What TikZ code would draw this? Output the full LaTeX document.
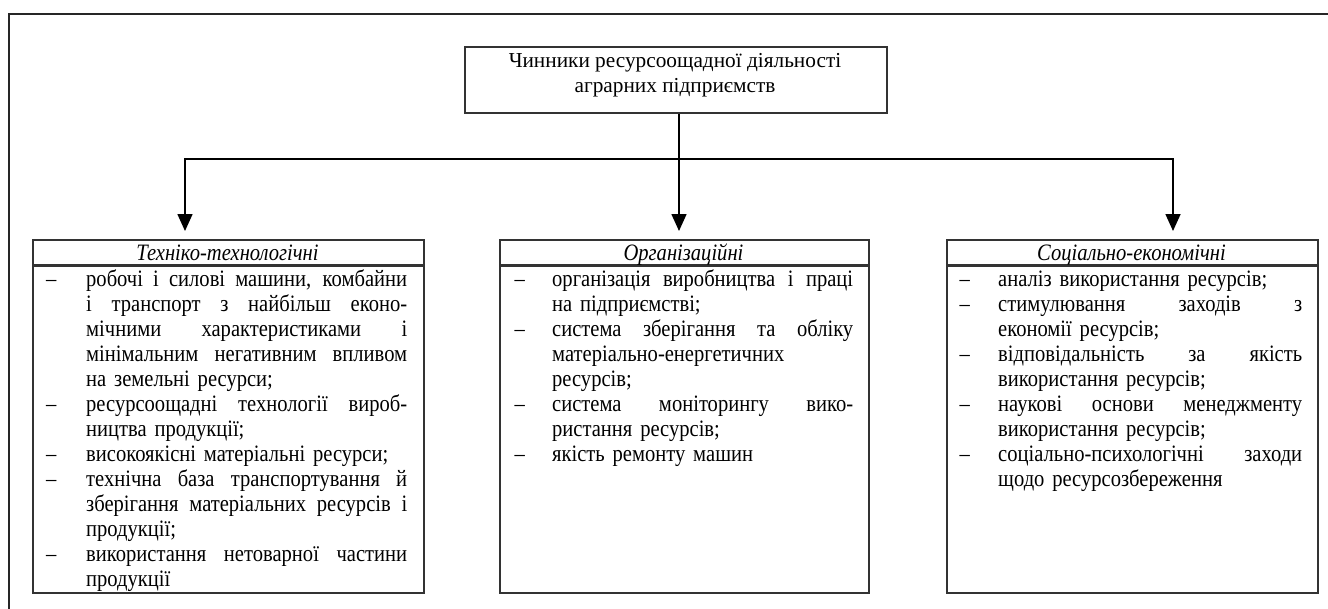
\documentclass[tikz,border=0pt]{standalone}
\usepackage{fontspec}
\setmainfont{Liberation Serif}
\newfontfamily\bodyfont[FakeStretch=0.875]{Liberation Serif}
\usetikzlibrary{arrows.meta}
\newlength{\tw}
\newlength{\dw}
\newcommand{\jl}[1]{\makebox[\tw][s]{\spaceskip=\fontdimen2\font plus 1fil\relax #1}}
\newcommand{\lft}[1]{\makebox[\tw][l]{#1}}
\newcommand{\dsh}{\strut\makebox[\dw][l]{–}}
\newcommand{\dsk}{\strut\hspace*{\dw}}
\tikzset{
  boxst/.style={draw=black!80, line width=1.6pt, inner sep=0pt, anchor=north west, fill=white},
  sepst/.style={draw=black!80, line width=2.2pt},
  framest/.style={draw=black!85, line width=2.4pt},
  linkst/.style={draw=black, line width=1.6pt, -{Triangle[length=17pt,width=15pt]}},
  bodyst/.style={font={\bodyfont\fontsize{23.5}{25}\selectfont}, inner sep=0pt, anchor=north west, align=left},
  headst/.style={font={\bodyfont\fontsize{23.5}{25}\selectfont\itshape}, inner sep=0pt, anchor=base},
}
\begin{document}
\begin{tikzpicture}[x=1pt,y=-1pt]
\useasboundingbox (0,0) rectangle (1328,608);
\draw[framest] (1330,14) -- (9,14) -- (9,610);

% top box
\node[boxst, minimum width=422pt, minimum height=66pt] (top) at (464,46) {};
\node[font={\fontsize{21.3}{25}\selectfont}, inner sep=0pt, anchor=north, align=center] (toptxt) at (675,50)
  {\strut Чинники ресурсоощадної діяльності\\ \strut аграрних підприємств};

% three boxes
\node[boxst, minimum width=391pt, minimum height=353pt] (b1) at (32,239) {};
\node[boxst, minimum width=369pt, minimum height=353pt] (b2) at (499,239) {};
\node[boxst, minimum width=371pt, minimum height=353pt] (b3) at (946,239) {};

\coordinate (s1) at (0,265.5);
\draw[sepst] (b1.west |- s1) -- (b1.east |- s1);
\draw[sepst] (b2.west |- s1) -- (b2.east |- s1);
\draw[sepst] (b3.west |- s1) -- (b3.east |- s1);

\node[headst] (h1) at (227.5,260) {Техніко-технологічні};
\node[headst] (h2) at (683.5,260) {Організаційні};
\node[headst] (h3) at (1131.5,260) {Соціально-економічні};

\node[bodyst, text width=361pt] (t1) at (46,268.5) {\setlength{\dw}{40pt}\setlength{\tw}{321pt}%
\dsh\jl{робочі і силові машини, комбайни}\\
\dsk\jl{і транспорт з найбільш еконо-}\\
\dsk\jl{мічними характеристиками і}\\
\dsk\jl{мінімальним негативним впливом}\\
\dsk\lft{на земельні ресурси;}\\
\dsh\jl{ресурсоощадні технології вироб-}\\
\dsk\lft{ництва продукції;}\\
\dsh\lft{високоякісні матеріальні ресурси;}\\
\dsh\jl{технічна база транспортування й}\\
\dsk\jl{зберігання матеріальних ресурсів і}\\
\dsk\lft{продукції;}\\
\dsh\jl{використання нетоварної частини}\\
\dsk\lft{продукції}};

\node[bodyst, text width=338pt] (t2) at (514.5,268.5) {\setlength{\dw}{37.5pt}\setlength{\tw}{301pt}%
\dsh\jl{організація виробництва і праці}\\
\dsk\lft{на підприємстві;}\\
\dsh\jl{система зберігання та обліку}\\
\dsk\lft{матеріально-енергетичних}\\
\dsk\lft{ресурсів;}\\
\dsh\jl{система моніторингу вико-}\\
\dsk\lft{ристання ресурсів;}\\
\dsh\lft{якість ремонту машин}};

\node[bodyst, text width=342.5pt] (t3) at (959.5,268.5) {\setlength{\dw}{38.5pt}\setlength{\tw}{304pt}%
\dsh\lft{аналіз використання ресурсів;}\\
\dsh\jl{стимулювання заходів з}\\
\dsk\lft{економії ресурсів;}\\
\dsh\jl{відповідальність за якість}\\
\dsk\lft{використання ресурсів;}\\
\dsh\jl{наукові основи менеджменту}\\
\dsk\lft{використання ресурсів;}\\
\dsh\jl{соціально-психологічні заходи}\\
\dsk\lft{щодо ресурсозбереження}};

% connectors
\coordinate (a1) at (185,231);
\coordinate (a2) at (679,231);
\coordinate (a3) at (1173,231);
\coordinate (hj) at (679,159);
\draw[linkst] (top.south -| a2) -- (a2);
\draw[linkst] (hj) -| (a1);
\draw[linkst] (hj) -| (a3);
\end{tikzpicture}
\end{document}
